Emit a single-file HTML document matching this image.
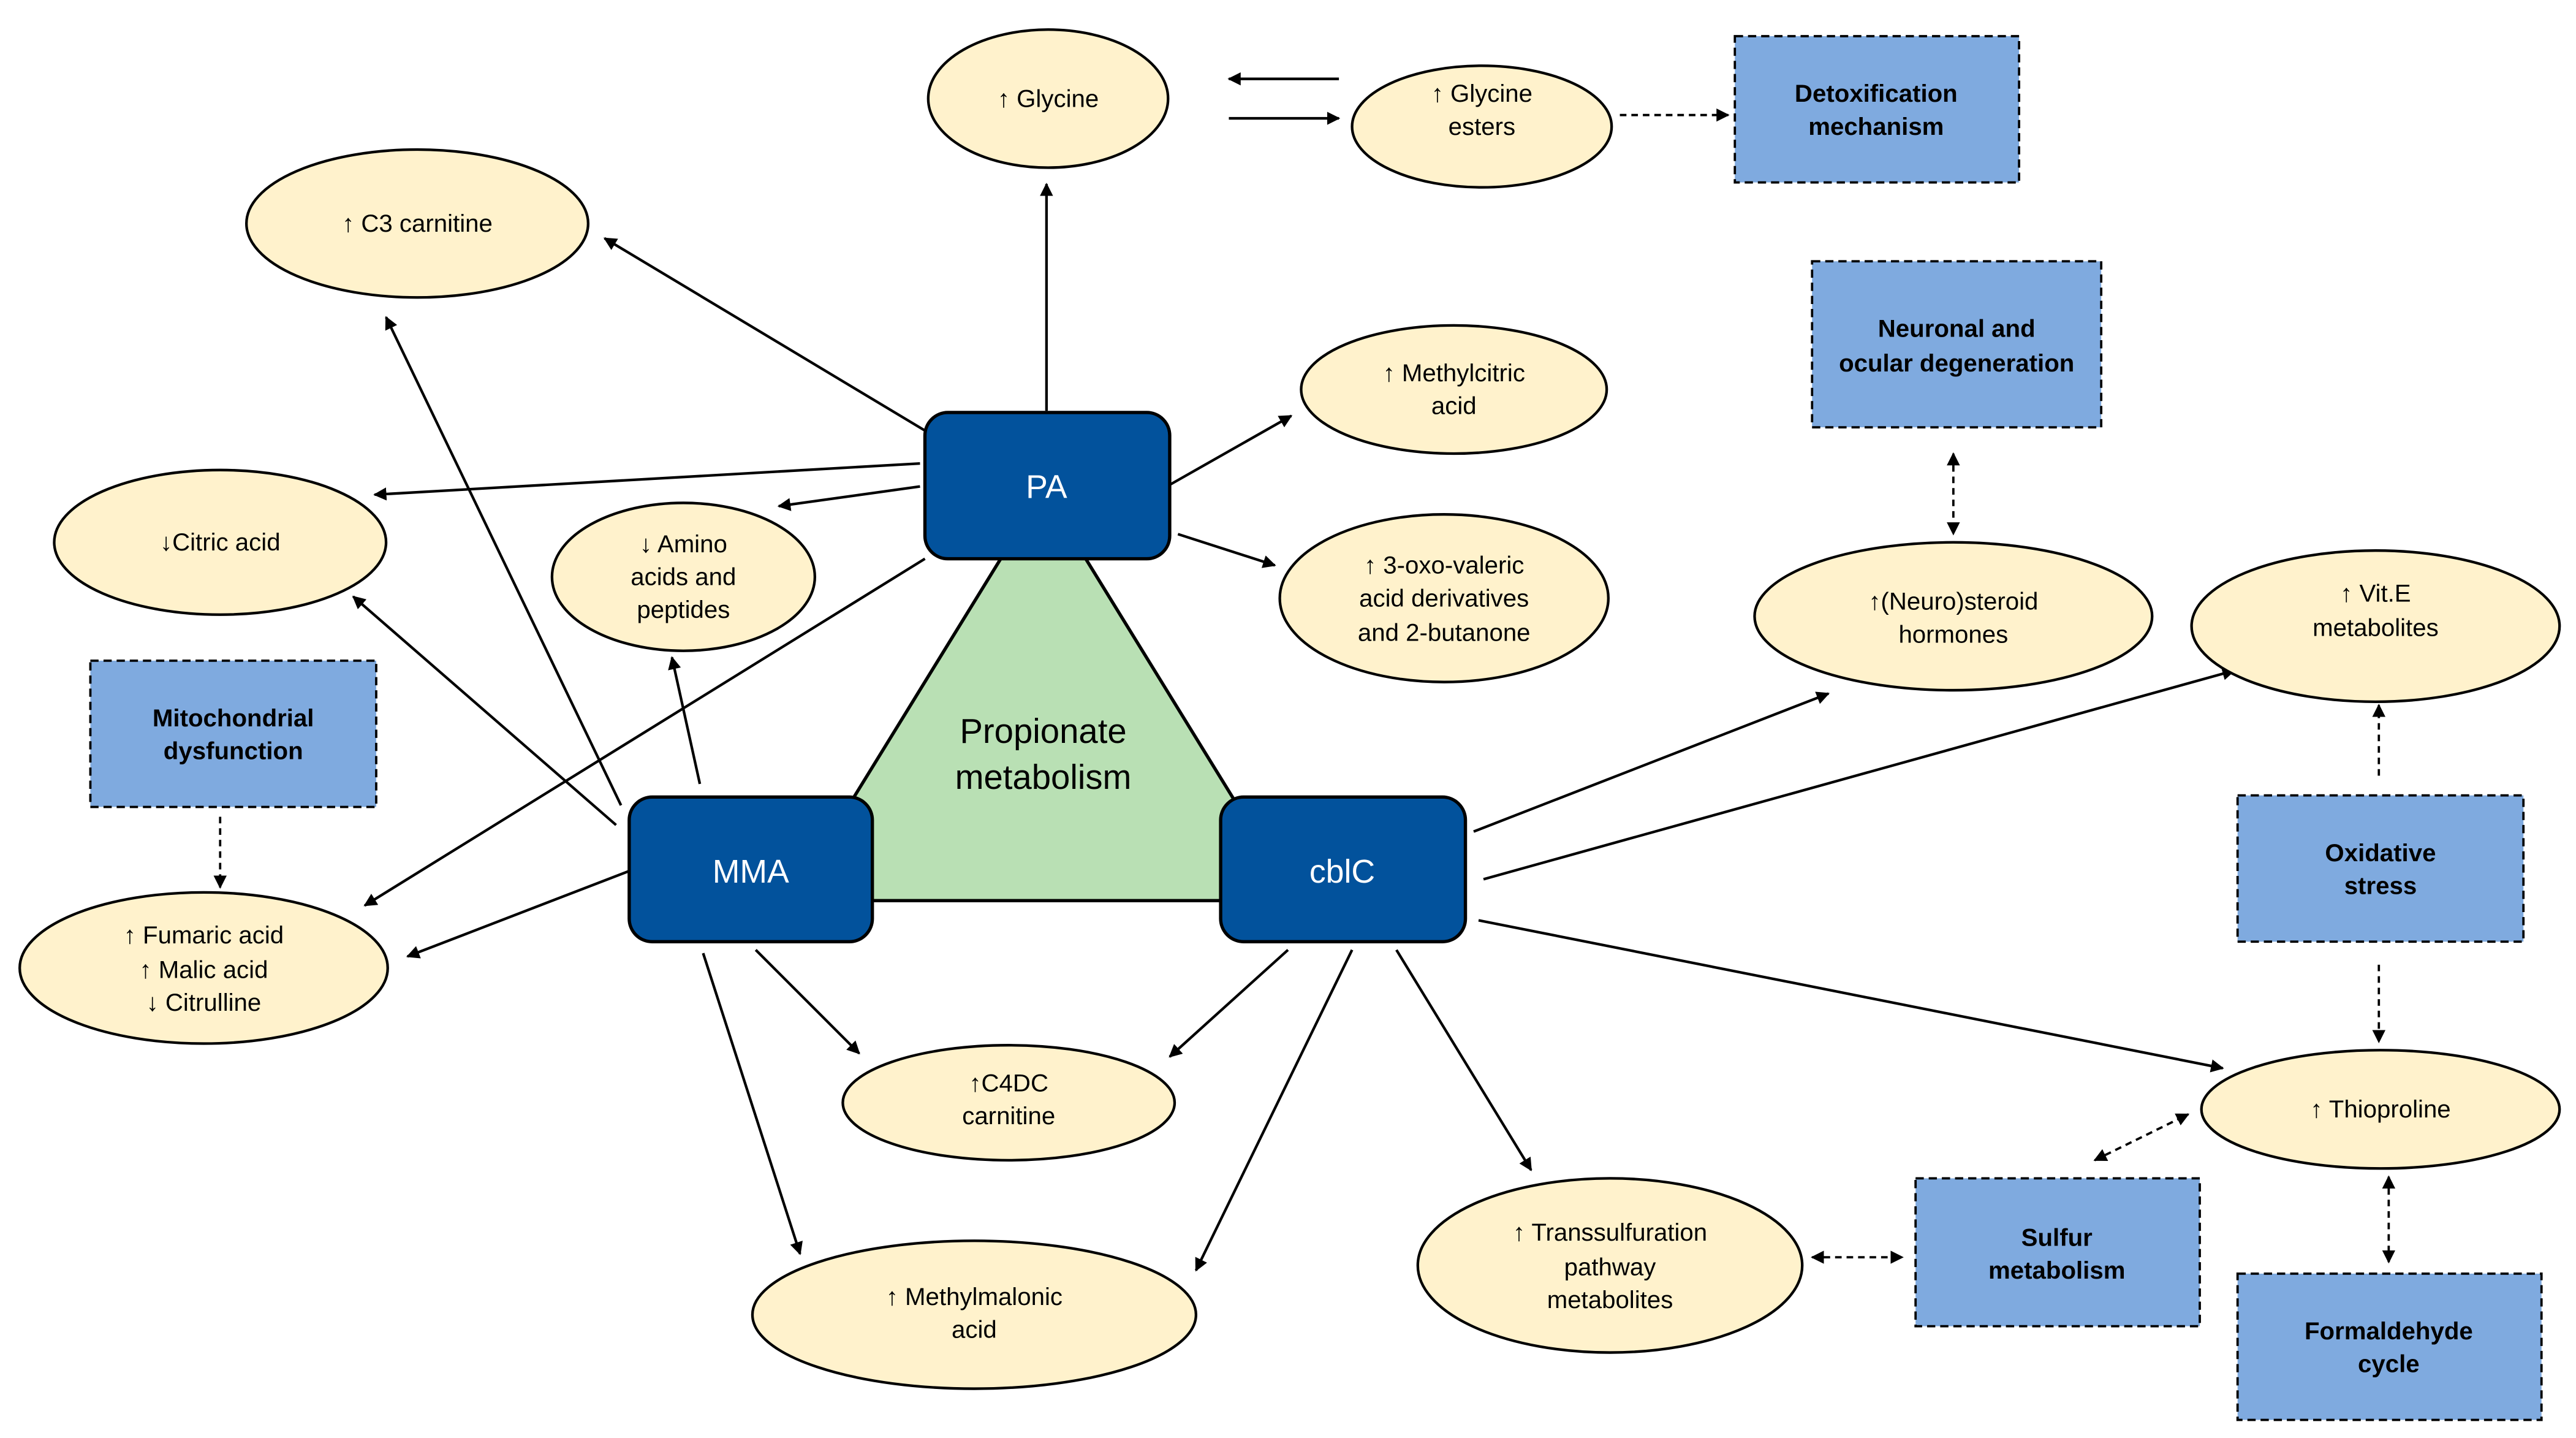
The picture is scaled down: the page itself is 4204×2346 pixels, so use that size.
<!DOCTYPE html>
<html><head><meta charset="utf-8"><style>html,body{margin:0;padding:0;background:#fff}svg{display:block}</style></head><body>
<svg width="4204" height="2346" viewBox="0 0 1568 875" xmlns="http://www.w3.org/2000/svg" font-family="'Liberation Sans', sans-serif">
<defs>
<marker id="a" viewBox="0 0 10 10" refX="9" refY="5" markerWidth="8" markerHeight="8" markerUnits="userSpaceOnUse" orient="auto-start-reverse"><path d="M0,0L10,5L0,10z" fill="#000"/></marker>
</defs>
<polygon points="635,298 481,548 789,548" fill="#b9e0b4" stroke="#000" stroke-width="2"/>
<text x="635" y="452" font-size="21" text-anchor="middle">Propionate</text>
<text x="635" y="480" font-size="21" text-anchor="middle">metabolism</text>
<g stroke="#000" stroke-width="1.6" fill="none" marker-end="url(#a)">
<line x1="637" y1="250" x2="637" y2="112"/>
<line x1="563" y1="262" x2="368" y2="145"/>
<line x1="560" y1="282" x2="228" y2="301"/>
<line x1="560" y1="296" x2="474" y2="308"/>
<line x1="563" y1="340" x2="222" y2="551"/>
<line x1="712" y1="295" x2="786" y2="253"/>
<line x1="717" y1="325" x2="776" y2="344"/>
<line x1="815" y1="48" x2="748" y2="48"/>
<line x1="748" y1="72" x2="815" y2="72"/>
<line x1="378" y1="490" x2="235" y2="193"/>
<line x1="375" y1="502" x2="215" y2="363"/>
<line x1="426" y1="477" x2="409" y2="400"/>
<line x1="383" y1="530" x2="248" y2="582"/>
<line x1="460" y1="578" x2="523" y2="641"/>
<line x1="428" y1="580" x2="487" y2="763"/>
<line x1="784" y1="578" x2="712" y2="643"/>
<line x1="823" y1="578" x2="728" y2="773"/>
<line x1="850" y1="578" x2="932" y2="712"/>
<line x1="897" y1="506" x2="1113" y2="422"/>
<line x1="903" y1="535" x2="1360" y2="408"/>
<line x1="900" y1="560" x2="1353" y2="650"/>
</g>
<g stroke="#000" stroke-width="1.4" fill="none" stroke-dasharray="4,3" marker-end="url(#a)">
<line x1="986" y1="70" x2="1052" y2="70"/>
<line x1="134" y1="497" x2="134" y2="540"/>
<line x1="1448" y1="472" x2="1448" y2="429"/>
<line x1="1448" y1="587" x2="1448" y2="634"/>
<line x1="1189" y1="276" x2="1189" y2="325" marker-start="url(#a)"/>
<line x1="1103" y1="765" x2="1158" y2="765" marker-start="url(#a)"/>
<line x1="1275" y1="706" x2="1332" y2="678" marker-start="url(#a)"/>
<line x1="1454" y1="716" x2="1454" y2="768" marker-start="url(#a)"/>
</g>
<g fill="#fff2cc" stroke="#000" stroke-width="1.6">
<ellipse cx="638" cy="60" rx="73" ry="42"/>
<ellipse cx="902" cy="77" rx="79" ry="37"/>
<ellipse cx="254" cy="136" rx="104" ry="45"/>
<ellipse cx="885" cy="237" rx="93" ry="39"/>
<ellipse cx="134" cy="330" rx="101" ry="44"/>
<ellipse cx="416" cy="351" rx="80" ry="45"/>
<ellipse cx="879" cy="364" rx="100" ry="51"/>
<ellipse cx="1189" cy="375" rx="121" ry="45"/>
<ellipse cx="1446" cy="381" rx="112" ry="46"/>
<ellipse cx="124" cy="589" rx="112" ry="46"/>
<ellipse cx="614" cy="671" rx="101" ry="35"/>
<ellipse cx="1449" cy="675" rx="109" ry="36"/>
<ellipse cx="980" cy="770" rx="117" ry="53"/>
<ellipse cx="593" cy="800" rx="135" ry="45"/>
</g>
<g fill="#7faadf" stroke="#000" stroke-width="1.4" stroke-dasharray="5,3">
<rect x="1056" y="22" width="173" height="89"/>
<rect x="1103" y="159" width="176" height="101"/>
<rect x="55" y="402" width="174" height="89"/>
<rect x="1362" y="484" width="174" height="89"/>
<rect x="1166" y="717" width="173" height="90"/>
<rect x="1362" y="775" width="185" height="89"/>
</g>
<g fill="#02529c" stroke="#000" stroke-width="2">
<rect x="563" y="251" width="149" height="89" rx="14"/>
<rect x="383" y="485" width="148" height="88" rx="14"/>
<rect x="743" y="485" width="149" height="88" rx="14"/>
</g>
<g fill="#fff" font-size="20" text-anchor="middle">
<text x="637" y="303">PA</text>
<text x="457" y="537">MMA</text>
<text x="817" y="537">cblC</text>
</g>
<g font-size="15" text-anchor="middle" fill="#000">
<text x="638" y="65">↑ Glycine</text>
<text x="902" y="62">↑ Glycine</text><text x="902" y="82">esters</text>
<text x="254" y="141">↑ C3 carnitine</text>
<text x="885" y="232">↑ Methylcitric</text><text x="885" y="252">acid</text>
<text x="134" y="335">↓Citric acid</text>
<text x="416" y="336">↓ Amino</text><text x="416" y="356">acids and</text><text x="416" y="376">peptides</text>
<text x="879" y="349">↑ 3-oxo-valeric</text><text x="879" y="369">acid derivatives</text><text x="879" y="390">and 2-butanone</text>
<text x="1189" y="371">↑(Neuro)steroid</text><text x="1189" y="391">hormones</text>
<text x="1446" y="366">↑ Vit.E</text><text x="1446" y="387">metabolites</text>
<text x="124" y="574">↑ Fumaric acid</text><text x="124" y="595">↑ Malic acid</text><text x="124" y="615">↓ Citrulline</text>
<text x="614" y="664">↑C4DC</text><text x="614" y="684">carnitine</text>
<text x="1449" y="680">↑ Thioproline</text>
<text x="980" y="755">↑  Transsulfuration</text><text x="980" y="776">pathway</text><text x="980" y="796">metabolites</text>
<text x="593" y="794">↑ Methylmalonic</text><text x="593" y="814">acid</text>
</g>
<g font-size="15" font-weight="bold" text-anchor="middle" fill="#000">
<text x="1142" y="62">Detoxification</text><text x="1142" y="82">mechanism</text>
<text x="1191" y="205">Neuronal and</text><text x="1191" y="226">ocular degeneration</text>
<text x="142" y="442">Mitochondrial</text><text x="142" y="462">dysfunction</text>
<text x="1449" y="524">Oxidative</text><text x="1449" y="544">stress</text>
<text x="1252" y="758">Sulfur</text><text x="1252" y="778">metabolism</text>
<text x="1454" y="815">Formaldehyde</text><text x="1454" y="835">cycle</text>
</g>
</svg>
</body></html>
